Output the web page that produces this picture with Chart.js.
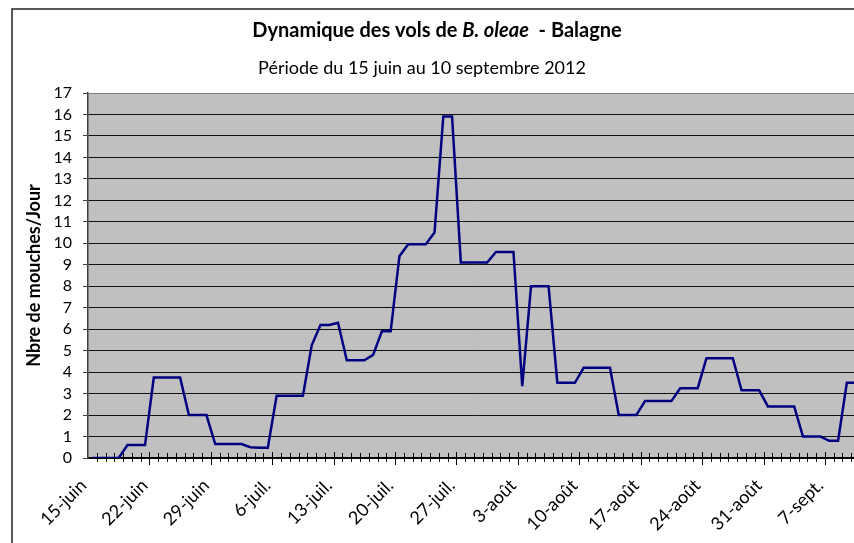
<!DOCTYPE html>
<html lang="fr">
<head>
<meta charset="UTF-8">
<script src="https://cdn.jsdelivr.net/npm/chart.js@4"></script>
<style>
  html, body { margin: 0; padding: 0; overflow: hidden; background: #fff; }
</style>
<title>Dynamique des vols de B. oleae - Balagne</title>
</head>
<body>
<canvas id="vols" width="872" height="560"></canvas>
<script>
// one value per day, 15 June -> 10 September 2012
var mois = ['janv.', 'févr.', 'mars', 'avr.', 'mai', 'juin', 'juil.', 'août', 'sept.', 'oct.', 'nov.', 'déc.'];
var jours = [];
for (var d = new Date(2012, 5, 15); d <= new Date(2012, 8, 10); d.setDate(d.getDate() + 1)) {
    jours.push(d.getDate() + '-' + mois[d.getMonth()]);
}

var tickLabels = ['15-juin', '22-juin', '29-juin', '6-juil.', '13-juil.', '20-juil.', '27-juil.',
                  '3-août', '10-août', '17-août', '24-août', '31-août', '7-sept.'];

var mouches = [
    0, 0, 0, 0, 0.6, 0.6, 0.6,
    3.75, 3.75, 3.75, 3.75, 2, 2, 2,
    0.65, 0.65, 0.65, 0.65, 0.5, 0.48, 0.48,
    2.9, 2.9, 2.9, 2.9, 5.25, 6.2, 6.2,
    6.3, 4.55, 4.55, 4.55, 4.8, 5.9, 5.9,
    9.4, 9.95, 9.95, 9.95, 10.5, 15.9, 15.9,
    9.1, 9.1, 9.1, 9.1, 9.6, 9.6, 9.6,
    3.35, 8, 8, 8, 3.5, 3.5, 3.5,
    4.2, 4.2, 4.2, 4.2, 2, 2, 2,
    2.65, 2.65, 2.65, 2.65, 3.25, 3.25, 3.25,
    4.65, 4.65, 4.65, 4.65, 3.15, 3.15, 3.15,
    2.4, 2.4, 2.4, 2.4, 1, 1, 1,
    0.8, 0.8, 3.5, 3.5
];

var FONT = 'Lato, "Open Sans", sans-serif';

// grey plot area, outer frame and the two title lines
var decor = {
    id: 'decor',
    beforeDraw: function(chart) {
        var ctx = chart.ctx, a = chart.chartArea;
        ctx.save();
        ctx.fillStyle = '#c0c0c0';
        ctx.fillRect(a.left, a.top, a.right - a.left, a.bottom - a.top);
        ctx.strokeStyle = '#222';
        ctx.lineWidth = 1.5;
        ctx.strokeRect(12, 9, 900, 600);

        // title with italic species name
        var parts = [
            ['bold 20px ' + FONT, 'Dynamique des vols de '],
            ['italic bold 20px ' + FONT, 'B. oleae'],
            ['bold 20px ' + FONT, '  - Balagne']
        ];
        var total = 0;
        parts.forEach(function(p) { ctx.font = p[0]; total += ctx.measureText(p[1]).width; });
        var x = 437 - total / 2;
        ctx.fillStyle = '#000';
        ctx.textBaseline = 'middle';
        ctx.textAlign = 'left';
        parts.forEach(function(p) {
            ctx.font = p[0];
            ctx.fillText(p[1], x, 31);
            x += ctx.measureText(p[1]).width;
        });
        ctx.font = '18px ' + FONT;
        ctx.textAlign = 'center';
        ctx.fillText('Période du 15 juin au 10 septembre 2012', 422, 68);
        ctx.restore();
    },
    beforeDatasetsDraw: function(chart) {
        // day tick marks crossing the x axis, longer every week
        var ctx = chart.ctx, xs = chart.scales.x, y0 = chart.scales.y.getPixelForValue(0);
        var half = (xs.getPixelForValue(1) - xs.getPixelForValue(0)) / 2;
        ctx.save();
        ctx.strokeStyle = '#000';
        ctx.lineWidth = 1;
        for (var i = 1; i <= jours.length; i++) {
            var px = Math.round(xs.getPixelForValue(i) - half) + 0.5;
            var major = i % 7 === 0;
            ctx.beginPath();
            ctx.moveTo(px, y0 - (major ? 6 : 5));
            ctx.lineTo(px, y0 + (major ? 7 : 4));
            ctx.stroke();
        }
        ctx.restore();
    }
};

new Chart(document.getElementById('vols'), {
    type: 'line',
    data: {
        labels: jours,
        datasets: [{
            data: mouches,
            borderColor: '#000080',
            borderWidth: 2.5,
            pointRadius: 0,
            tension: 0,
            fill: false
        }]
    },
    options: {
        responsive: false,
        animation: false,
        layout: { padding: { top: 93, right: 12, bottom: 0, left: 0 } },
        plugins: { legend: { display: false }, tooltip: { enabled: false } },
        scales: {
            x: {
                type: 'category',
                offset: true,
                grid: { display: false, drawTicks: false },
                border: { display: true, color: '#000', width: 1.5 },
                ticks: {
                    autoSkip: false,
                    minRotation: 45,
                    maxRotation: 45,
                    padding: 17,
                    labelOffset: -9,
                    color: '#000',
                    font: { family: FONT, size: 18 },
                    callback: function(v, idx) { return idx % 7 === 0 ? tickLabels[idx / 7] : ''; }
                },
                afterFit: function(s) {
                    s.height = 102;
                    s.paddingLeft = 0;
                    s.paddingRight = 0;
                }
            },
            y: {
                min: 0,
                max: 17,
                ticks: {
                    stepSize: 1,
                    autoSkip: false,
                    padding: 11,
                    color: '#000',
                    font: { family: FONT, size: 16 }
                },
                grid: {
                    color: function(c) { return c.tick && c.tick.value === 17 ? '#808080' : '#111'; },
                    lineWidth: 1,
                    tickLength: 5,
                    tickColor: '#404040'
                },
                border: { display: true, color: '#404040', width: 1.5 },
                title: {
                    display: true,
                    text: 'Nbre de mouches/Jour',
                    color: '#000',
                    font: { family: FONT, size: 18, weight: 'bold' },
                    padding: { top: 23, bottom: 0 }
                },
                afterFit: function(s) { s.width = 88; }
            }
        }
    },
    plugins: [decor]
});
</script>
</body>
</html>
